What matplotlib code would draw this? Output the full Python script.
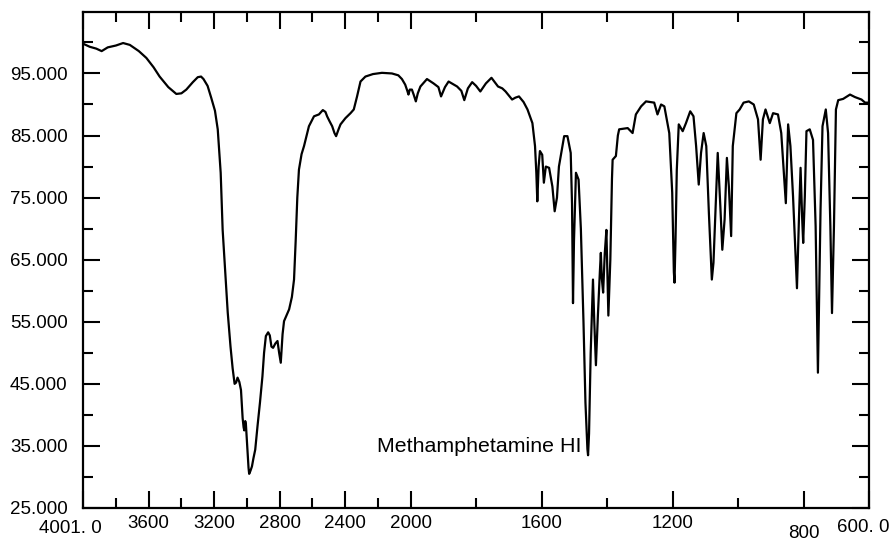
import numpy as np
import matplotlib
matplotlib.use("Agg")
import matplotlib.pyplot as plt
from matplotlib.transforms import ScaledTranslation

plt.rcParams["font.family"] = ["Liberation Sans", "DejaVu Sans"]

# spectrum: wavenumber (cm-1) and %T
wavenumber = [
    4001, 3960, 3920, 3887, 3850, 3800, 3756, 3715, 3660, 3614, 3570, 3533, 3480, 3431,
    3400, 3370, 3330, 3300, 3280, 3265, 3240, 3218, 3195, 3178, 3160, 3148, 3130, 3117,
    3100, 3087, 3075, 3066, 3057, 3046, 3036, 3026, 3020, 3016, 3010, 3006, 2998, 2990,
    2986, 2978, 2969, 2960, 2949, 2935, 2920, 2905, 2895, 2884, 2870, 2860, 2850, 2840,
    2826, 2813, 2803, 2793, 2782, 2773, 2755, 2742, 2725, 2712, 2702, 2692, 2682, 2666,
    2651, 2621, 2590, 2560, 2536, 2520, 2510, 2495, 2479, 2465, 2455, 2440, 2428, 2398,
    2367, 2347, 2327, 2306, 2276, 2230, 2175, 2114, 2075, 2053, 2033, 2020, 2013, 2005,
    1996, 1990, 1984, 1978, 1970, 1950, 1930, 1915, 1907, 1895, 1884, 1858, 1845, 1836,
    1825, 1812, 1800, 1787, 1770, 1753, 1733, 1720, 1710, 1690, 1680, 1669, 1655, 1643,
    1628, 1620, 1616, 1613, 1609, 1605, 1598, 1593, 1587, 1577, 1567, 1560, 1553, 1547,
    1531, 1521, 1511, 1507, 1504, 1501, 1495, 1487, 1480, 1472, 1466, 1460, 1458, 1455,
    1450, 1446, 1443, 1439, 1434, 1428, 1422, 1419, 1416, 1412, 1407, 1402, 1399, 1396,
    1390, 1385, 1383, 1373, 1367, 1363, 1337, 1322, 1312, 1296, 1281, 1256, 1246, 1235,
    1225, 1210, 1201, 1196, 1194, 1191, 1187, 1181, 1169, 1159, 1146, 1136, 1128, 1120,
    1113, 1105, 1097, 1089, 1080, 1075, 1069, 1062, 1054, 1048, 1041, 1034, 1028, 1021,
    1016, 1005, 995, 983, 967, 952, 939, 931, 924, 916, 903, 893, 878, 868,
    860, 854, 847, 840, 832, 824, 820, 814, 809, 804, 801, 796, 791, 781,
    771, 763, 759, 756, 753, 748, 742, 732, 725, 718, 713, 707, 701, 694,
    679, 658, 643, 623, 612, 600,
]
transmittance = [
    99.8, 99.3, 99.0, 98.6, 99.2, 99.5, 99.9, 99.6, 98.6, 97.5, 96.0, 94.5, 92.8, 91.7,
    91.8, 92.4, 93.6, 94.4, 94.5, 94.1, 93.0, 91.1, 89.0, 86.0, 79.0, 69.8, 62.0, 56.5,
    51.0, 47.5, 45.0, 45.2, 46.0, 45.3, 44.0, 39.5, 38.0, 37.5, 39.0, 38.5, 35.0, 31.5,
    30.5, 31.0, 31.7, 33.0, 34.4, 38.2, 42.0, 46.2, 50.0, 52.7, 53.3, 52.8, 51.0, 50.8,
    51.5, 51.9, 50.0, 48.4, 53.0, 55.1, 56.2, 57.0, 59.0, 61.8, 68.0, 75.0, 79.5, 82.0,
    83.3, 86.5, 88.1, 88.4, 89.1, 88.8, 88.1, 87.3, 86.5, 85.4, 84.9, 86.0, 86.8, 87.8,
    88.6, 89.2, 91.3, 93.7, 94.5, 94.9, 95.1, 95.0, 94.7, 94.1, 93.2, 92.2, 91.6, 92.4,
    92.4, 91.5, 90.5, 91.8, 92.9, 94.1, 93.4, 92.8, 91.3, 92.8, 93.7, 92.9, 92.2, 90.7,
    92.6, 93.6, 93.0, 92.1, 93.4, 94.3, 92.9, 92.6, 92.1, 90.8, 91.1, 91.3, 90.4, 89.2,
    87.0, 83.3, 79.0, 74.4, 80.0, 82.5, 81.9, 77.4, 80.0, 79.8, 76.8, 72.8, 75.0, 80.0,
    84.9, 84.9, 82.2, 74.0, 58.0, 68.0, 79.0, 77.9, 70.0, 55.0, 42.0, 34.5, 33.5, 37.0,
    50.0, 57.0, 61.8, 55.0, 48.0, 56.0, 63.0, 66.1, 62.0, 59.7, 66.0, 69.8, 63.0, 56.0,
    65.0, 78.0, 81.1, 81.7, 85.0, 86.0, 86.2, 85.4, 88.4, 89.7, 90.5, 90.3, 88.4, 90.0,
    89.7, 85.4, 75.8, 63.0, 61.3, 68.0, 79.5, 86.8, 85.7, 87.0, 88.9, 88.1, 83.3, 77.1,
    82.2, 85.4, 83.3, 72.5, 61.8, 64.5, 72.5, 82.2, 73.6, 66.6, 71.5, 81.4, 76.8, 68.8,
    83.3, 88.6, 89.2, 90.3, 90.5, 90.0, 87.6, 81.1, 87.6, 89.2, 87.0, 88.6, 88.4, 85.4,
    79.0, 74.1, 86.8, 83.3, 75.2, 65.5, 60.4, 71.5, 79.8, 71.5, 67.7, 75.2, 85.7, 86.0,
    84.3, 70.4, 56.4, 46.8, 57.0, 73.1, 86.5, 89.2, 85.4, 70.4, 56.4, 70.4, 89.2, 90.7,
    90.9, 91.6, 91.2, 90.8, 90.3, 90.3,
]

x_major = [4001, 3600, 3200, 2800, 2400, 2000, 1600, 1200, 800, 600]
x_labels = ["4001. 0", "3600", "3200", "2800", "2400", "2000", "1600", "1200", "800", "600. 0"]
x_minor = [3800, 3400, 3000, 2600, 2200, 1800, 1400, 1000]
y_major = [25, 35, 45, 55, 65, 75, 85, 95]
y_minor = [30, 40, 50, 60, 70, 80, 90, 100]
title_text = "Methamphetamine HI"


# the chart paper halves the scale above 2000 cm-1
def forward(x):
    x = np.asarray(x, dtype=float)
    return np.where(x > 2000, 2000 + (x - 2000) / 2, x)


def inverse(x):
    x = np.asarray(x, dtype=float)
    return np.where(x > 2000, 2000 + (x - 2000) * 2, x)


fig = plt.figure(figsize=(8.93, 5.42), dpi=100)
ax = fig.add_axes([83 / 893, 1 - 508 / 542, (869 - 83) / 893, (508 - 12) / 542])
ax.set_xscale("function", functions=(forward, inverse))

ax.plot(wavenumber, transmittance, color="black", lw=1.6)

ax.set_xlim(4001, 600)
ax.set_ylim(25, 104.9)

ax.set_xticks(x_major, x_labels)
ax.set_xticks(x_minor, minor=True)
ax.set_yticks(y_major, ["%.3f" % v for v in y_major])
ax.set_yticks(y_minor, minor=True)

ax.tick_params(which="both", direction="in", top=True, right=True, width=1.5,
               labelsize=13.5, colors="black")
ax.tick_params(which="major", length=12)
ax.tick_params(which="minor", length=7)
ax.tick_params(axis="x", pad=5)
ax.tick_params(axis="y", pad=11)

# small shifts of the end labels as printed
shifts = {"4001. 0": (-13, -5), "600. 0": (-6, -4), "800": (0, -10)}
for lab in ax.get_xticklabels():
    if lab.get_text() in shifts:
        dx, dy = shifts[lab.get_text()]
        lab.set_transform(lab.get_transform() + ScaledTranslation(dx / 100, dy / 100, fig.dpi_scale_trans))

for sp in ax.spines.values():
    sp.set_linewidth(1.6)

ax.text(0.374, 0.123, title_text, transform=ax.transAxes, ha="left", va="center", fontsize=15.4)

fig.savefig("out.png", dpi=100)
